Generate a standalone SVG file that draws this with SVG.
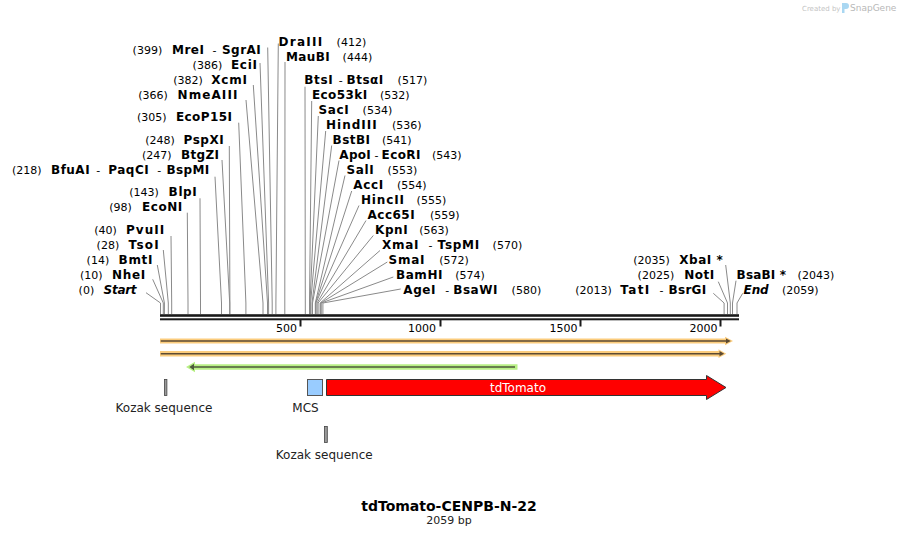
<svg xmlns="http://www.w3.org/2000/svg" width="899" height="537" viewBox="0 0 899 537">
<style>
text{font-family:"DejaVu Sans",Verdana,sans-serif;fill:#000}
.b{font-weight:bold;font-size:12px}
.n{font-weight:normal;font-size:11px}
.i{font-style:italic}
.c{fill:none;stroke:#8a8a8a;stroke-width:1}
.tick{fill:#1a1a1a}
.ft{font-size:12px;fill:#222}
</style>
<rect width="899" height="537" fill="#fff"/>
<g id="watermark">
<text x="802" y="10.5" style="font-size:7px;fill:#c4c4c4">Created by</text>
<path d="M842,3 h4 a3,3 0 0 1 0,6 h-1.5 v4 h-2.5 z" fill="#a9d7f2"/>
<text x="850" y="11" style="font-size:9px;fill:#b8b8b8">SnapGene</text>
</g>
<g id="connectors">
<polyline class="c" points="267.7,47.5 272.2,303 272.2,314"/>
<polyline class="c" points="260,63 268.6,303 268.6,314"/>
<polyline class="c" points="253.3,85 267.5,303 267.5,314"/>
<polyline class="c" points="246,100 263,303 263,314"/>
<polyline class="c" points="238.7,122.7 245.9,303 245.9,314"/>
<polyline class="c" points="229.3,146 229.9,303 229.9,314"/>
<polyline class="c" points="222,160 229.7,303 229.7,314"/>
<polyline class="c" points="215,176.7 221.5,303 221.5,314"/>
<polyline class="c" points="200,198.3 200.5,303 200.5,314"/>
<polyline class="c" points="187.3,212.7 188,303 188,314"/>
<polyline class="c" points="171,236 171.7,303 171.7,314"/>
<polyline class="c" points="163.3,250 168.3,303 168.3,314"/>
<polyline class="c" points="157.3,265 164.4,303 164.4,314"/>
<polyline class="c" points="152.7,279.3 163.3,303 163.3,314"/>
<polyline class="c" points="146,292.7 160.5,303 160.5,314"/>
<polyline class="c" points="278.3,43.5 275.9,303 275.9,314"/>
<polyline class="c" points="285,62 284.8,303 284.8,314"/>
<polyline class="c" points="305,86.7 305.3,303 305.3,314"/>
<polyline class="c" points="311.7,101 309.5,303 309.5,314"/>
<polyline class="c" points="318.3,116 310,303 310,314"/>
<polyline class="c" points="325.7,131 310.6,303 310.6,314"/>
<polyline class="c" points="331.7,145.5 312,303 312,314"/>
<polyline class="c" points="339,160.5 312.5,303 312.5,314"/>
<polyline class="c" points="345,175.5 315.3,303 315.3,314"/>
<polyline class="c" points="351.7,191 315.6,303 315.6,314"/>
<polyline class="c" points="359,205.5 315.9,303 315.9,314"/>
<polyline class="c" points="366,220.5 317,303 317,314"/>
<polyline class="c" points="373.3,235.5 318.1,303 318.1,314"/>
<polyline class="c" points="380,250.5 320.1,303 320.1,314"/>
<polyline class="c" points="387.3,262 320.7,303 320.7,314"/>
<polyline class="c" points="393.3,277 321.2,303 321.2,314"/>
<polyline class="c" points="400.7,289 322.9,303 322.9,314"/>
<polyline class="c" points="725.7,265 730.3,303 730.3,314"/>
<polyline class="c" points="718.3,281.7 727.5,303 727.5,314"/>
<polyline class="c" points="713.3,293.3 724.1,303 724.1,314"/>
<polyline class="c" points="736,280.7 732.5,303 732.5,314"/>
<polyline class="c" points="742.7,293.3 737,303 737,314"/>
</g>
<g id="site-labels" class="b">
<text y="53.5"><tspan class="n" x="132.6">(399)</tspan><tspan x="172" textLength="31.9">MreI</tspan><tspan class="n" x="212.6">-</tspan><tspan x="222" textLength="38.7">SgrAI</tspan></text>
<text y="68.5"><tspan class="n" x="192.6">(386)</tspan><tspan x="231" textLength="25.9">EciI</tspan></text>
<text y="83.5"><tspan class="n" x="173.3">(382)</tspan><tspan x="211.3" textLength="35.6">XcmI</tspan></text>
<text y="98.5"><tspan class="n" x="138.3">(366)</tspan><tspan x="177.6" textLength="59.8">NmeAIII</tspan></text>
<text y="121"><tspan class="n" x="137">(305)</tspan><tspan x="176" textLength="55.9">EcoP15I</tspan></text>
<text y="143.5"><tspan class="n" x="145.3">(248)</tspan><tspan x="183.6" textLength="40.1">PspXI</tspan></text>
<text y="158.5"><tspan class="n" x="142">(247)</tspan><tspan x="181" textLength="37.9">BtgZI</tspan></text>
<text y="173.5"><tspan class="n" x="12">(218)</tspan><tspan x="51" textLength="38.6">BfuAI</tspan><tspan class="n" x="96.2">-</tspan><tspan x="108.3" textLength="40.4">PaqCI</tspan><tspan class="n" x="157.2">-</tspan><tspan x="166.6" textLength="42.6">BspMI</tspan></text>
<text y="196"><tspan class="n" x="129.3">(143)</tspan><tspan x="168.6" textLength="28.2">BlpI</tspan></text>
<text y="210.5"><tspan class="n" x="109.3">(98)</tspan><tspan x="142" textLength="40.2">EcoNI</tspan></text>
<text y="233.5"><tspan class="n" x="94.3">(40)</tspan><tspan x="126" textLength="38.2">PvuII</tspan></text>
<text y="248.5"><tspan class="n" x="96.6">(28)</tspan><tspan x="128.6" textLength="30.1">TsoI</tspan></text>
<text y="263.5"><tspan class="n" x="86.6">(14)</tspan><tspan x="118.6" textLength="33.9">BmtI</tspan></text>
<text y="278.5"><tspan class="n" x="80">(10)</tspan><tspan x="112" textLength="33.2">NheI</tspan></text>
<text y="293.5"><tspan class="n" x="78.6">(0)</tspan><tspan class="i" x="103.6" textLength="33">Start</tspan></text>
<text y="45.5"><tspan x="278.6" textLength="43.6">DraIII</tspan><tspan class="n" x="336.6">(412)</tspan></text>
<text y="60.5"><tspan x="286" textLength="43.6">MauBI</tspan><tspan class="n" x="342.6">(444)</tspan></text>
<text y="83.5"><tspan x="304.3" textLength="28.3">BtsI</tspan><tspan class="n" x="338.8">-</tspan><tspan x="346.6" textLength="36.7">BtsαI</tspan><tspan class="n" x="397.6">(517)</tspan></text>
<text y="98.5"><tspan x="312" textLength="55.1">Eco53kI</tspan><tspan class="n" x="380">(532)</tspan></text>
<text y="113.5"><tspan x="318.6" textLength="30.1">SacI</tspan><tspan class="n" x="362.6">(534)</tspan></text>
<text y="128.5"><tspan x="326" textLength="50.7">HindIII</tspan><tspan class="n" x="392">(536)</tspan></text>
<text y="143.5"><tspan x="332.6" textLength="37.4">BstBI</tspan><tspan class="n" x="382">(541)</tspan></text>
<text y="158.5"><tspan x="339.3" textLength="31.5">ApoI</tspan><tspan class="n" x="374.6">-</tspan><tspan x="381.5" textLength="39">EcoRI</tspan><tspan class="n" x="432">(543)</tspan></text>
<text y="173.5"><tspan x="346.6" textLength="27.2">SalI</tspan><tspan class="n" x="387.6">(553)</tspan></text>
<text y="188.5"><tspan x="353.3" textLength="30">AccI</tspan><tspan class="n" x="397">(554)</tspan></text>
<text y="203.5"><tspan x="361" textLength="42.9">HincII</tspan><tspan class="n" x="416.6">(555)</tspan></text>
<text y="218.5"><tspan x="367.6" textLength="47">Acc65I</tspan><tspan class="n" x="430">(559)</tspan></text>
<text y="233.5"><tspan x="375" textLength="32.7">KpnI</tspan><tspan class="n" x="419.3">(563)</tspan></text>
<text y="248.5"><tspan x="382" textLength="36.5">XmaI</tspan><tspan class="n" x="428.5">-</tspan><tspan x="437.6" textLength="41.6">TspMI</tspan><tspan class="n" x="492.6">(570)</tspan></text>
<text y="263.5"><tspan x="388.6" textLength="35.8">SmaI</tspan><tspan class="n" x="439.3">(572)</tspan></text>
<text y="278.5"><tspan x="396" textLength="46.5">BamHI</tspan><tspan class="n" x="455.3">(574)</tspan></text>
<text y="293.5"><tspan x="403.3" textLength="32.2">AgeI</tspan><tspan class="n" x="445.2">-</tspan><tspan x="453.3" textLength="44.1">BsaWI</tspan><tspan class="n" x="511.6">(580)</tspan></text>
<text y="263.5"><tspan class="n" x="633.3">(2035)</tspan><tspan x="679.3" textLength="43.5">XbaI *</tspan></text>
<text y="278.5"><tspan class="n" x="637.6">(2025)</tspan><tspan x="684.3" textLength="30">NotI</tspan></text>
<text y="293.5"><tspan class="n" x="575.3">(2013)</tspan><tspan x="620.3" textLength="29">TatI</tspan><tspan class="n" x="659.5">-</tspan><tspan x="668.6" textLength="37.5">BsrGI</tspan></text>
<text y="278.5"><tspan x="736.6" textLength="49.5">BsaBI *</tspan><tspan class="n" x="797.6">(2043)</tspan></text>
<text y="293.5"><tspan class="i" x="743.6" textLength="25">End</tspan><tspan class="n" x="782">(2059)</tspan></text>
</g>
<g id="ruler">
<rect x="160" y="314.2" width="579" height="2.6" class="tick"/>
<rect x="160" y="318.3" width="579" height="2" class="tick"/>
<rect x="299.5" y="320" width="2" height="6.5" class="tick"/>
<rect x="439.5" y="320" width="2" height="6.5" class="tick"/>
<rect x="579.5" y="320" width="2" height="6.5" class="tick"/>
<rect x="719.5" y="320" width="2" height="6.5" class="tick"/>
<g class="n" text-anchor="end">
<text x="297" y="331.5" class="n">500</text>
<text x="436" y="331.5" class="n">1000</text>
<text x="577.5" y="331.5" class="n">1500</text>
<text x="717.5" y="331.5" class="n">2000</text>
</g>
</g>
<g id="orf1">
<path d="M160,338.4 H725 V336.7 L733,341 L725,345.3 V343.6 H160 Z" fill="#fbcc7c"/>
<path d="M160.7,340.2 H726 V338.4 L730.8,341 L726,343.6 V341.8 H160.7 Z" fill="#5c4a33"/>
</g>
<g id="orf2">
<path d="M160,351 H718.5 V349.3 L726.3,353.7 L718.5,358 V356.4 H160 Z" fill="#fbcc7c"/>
<path d="M160.7,352.9 H719.5 V351.1 L724.2,353.7 L719.5,356.3 V354.5 H160.7 Z" fill="#5c4a33"/>
</g>
<g id="orf3">
<path d="M517.5,364.2 H195 V361.7 L186,367 L195,372.3 V369.8 H517.5 Z" fill="#b8f085"/>
<path d="M515,366.2 H194 V363.8 L189.3,367 L194,370.2 V367.8 H515 Z" fill="#4d5a3c"/>
</g>
<g id="kozak1">
<rect x="164.5" y="379.5" width="2.4" height="16" fill="#9a9a9a" stroke="#444" stroke-width="0.8"/>
<text class="ft" x="164" y="412.3" text-anchor="middle">Kozak sequence</text>
</g>
<g id="mcs">
<rect x="307.5" y="379.5" width="15" height="16" fill="#99ccff" stroke="#555" stroke-width="1"/>
<text class="ft" x="305.5" y="412.3" text-anchor="middle">MCS</text>
</g>
<g id="kozak2">
<rect x="324.5" y="426.5" width="2.8" height="16" fill="#9a9a9a" stroke="#444" stroke-width="0.8"/>
<text class="ft" x="324.2" y="459.3" text-anchor="middle">Kozak sequence</text>
</g>
<g id="tdTomato">
<path d="M326.5,379.5 H706.5 V375.5 L726,387.5 L706.5,399.5 V395.5 H326.5 Z" fill="#ff0000" stroke="#333" stroke-width="1"/>
<text x="518" y="391.5" text-anchor="middle" style="font-size:12px;fill:#fff">tdTomato</text>
</g>
<g id="title">
<text x="449" y="510.7" text-anchor="middle" style="font-weight:bold;font-size:14px">tdTomato-CENPB-N-22</text>
<text x="449" y="524.3" text-anchor="middle" style="font-size:11px;fill:#222">2059 bp</text>
</g>
</svg>
